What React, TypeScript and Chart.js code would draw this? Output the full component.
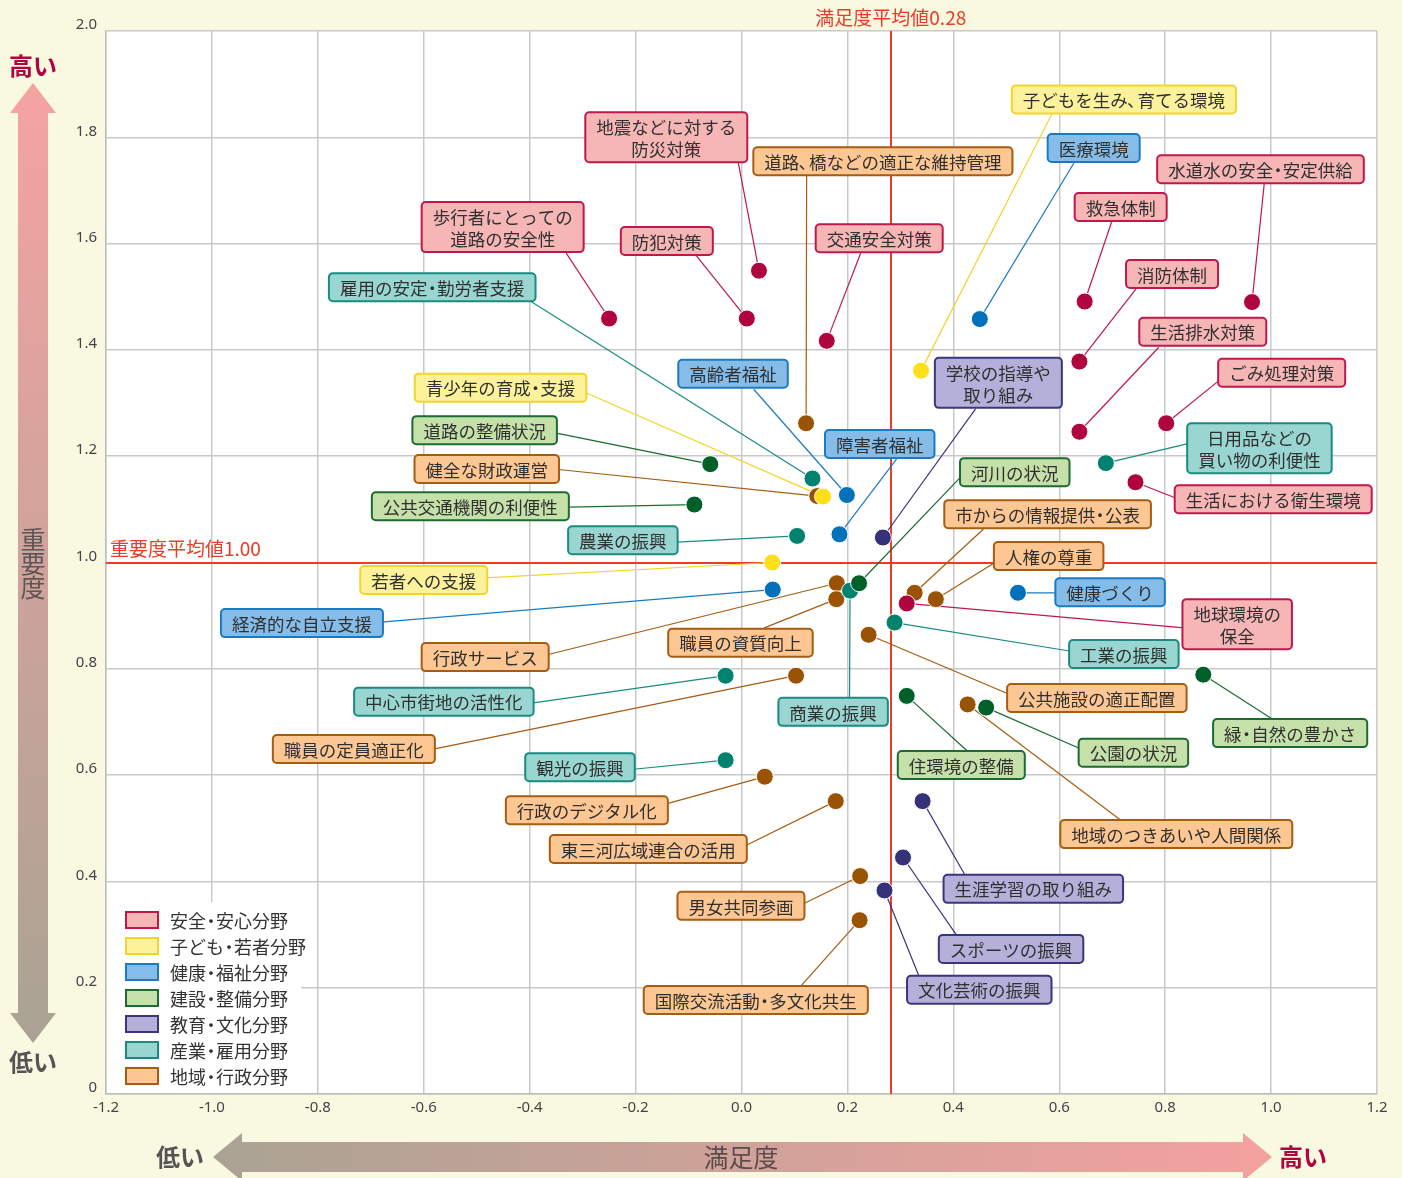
import { useEffect, useRef } from "react";
import { Chart, registerables } from "chart.js";

Chart.register(...registerables);

// ---------------- data ----------------
const CATEGORIES = [
  "安全・安心分野",
  "子ども・若者分野",
  "健康・福祉分野",
  "建設・整備分野",
  "教育・文化分野",
  "産業・雇用分野",
  "地域・行政分野",
];

const SAFETY_NAMES = ["地震などに対する防災対策", "歩行者にとっての道路の安全性", "防犯対策", "交通安全対策", "救急体制", "水道水の安全・安定供給", "消防体制", "生活排水対策", "ごみ処理対策", "生活における衛生環境", "地球環境の保全"];
const SAFETY_X = [0.033, -0.25, 0.01, 0.161, 0.648, 0.964, 0.638, 0.638, 0.802, 0.744, 0.312];
const SAFETY_Y = [1.549, 1.459, 1.459, 1.417, 1.491, 1.49, 1.378, 1.246, 1.262, 1.151, 0.923];

const CHILD_NAMES = ["子どもを生み、育てる環境", "青少年の育成・支援", "若者への支援"];
const CHILD_X = [0.339, 0.154, 0.058];
const CHILD_Y = [1.361, 1.124, 1.0];

const HEALTH_NAMES = ["医療環境", "高齢者福祉", "障害者福祉", "経済的な自立支援", "健康づくり"];
const HEALTH_X = [0.45, 0.199, 0.185, 0.059, 0.522];
const HEALTH_Y = [1.458, 1.127, 1.053, 0.949, 0.943];

const BUILD_NAMES = ["道路の整備状況", "公共交通機関の利便性", "河川の状況", "住環境の整備", "公園の状況", "緑・自然の豊かさ"];
const BUILD_X = [-0.059, -0.089, 0.222, 0.312, 0.462, 0.872];
const BUILD_Y = [1.185, 1.109, 0.961, 0.749, 0.727, 0.789];

const EDU_NAMES = ["学校の指導や取り組み", "生涯学習の取り組み", "スポーツの振興", "文化芸術の振興"];
const EDU_X = [0.267, 0.342, 0.305, 0.27];
const EDU_Y = [1.047, 0.551, 0.445, 0.383];

const INDUSTRY_NAMES = ["雇用の安定・勤労者支援", "日用品などの買い物の利便性", "農業の振興", "商業の振興", "工業の振興", "中心市街地の活性化", "観光の振興"];
const INDUSTRY_X = [0.134, 0.688, 0.105, 0.205, 0.289, -0.03, -0.03];
const INDUSTRY_Y = [1.158, 1.187, 1.05, 0.947, 0.887, 0.787, 0.628];

const ADMIN_NAMES = ["道路、橋などの適正な維持管理", "健全な財政運営", "行政サービス", "職員の資質向上", "市からの情報提供・公表", "人権の尊重", "公共施設の適正配置", "職員の定員適正化", "地域のつきあいや人間関係", "行政のデジタル化", "東三河広域連合の活用", "男女共同参画", "国際交流活動・多文化共生"];
const ADMIN_X = [0.122, 0.143, 0.18, 0.179, 0.327, 0.367, 0.24, 0.103, 0.427, 0.044, 0.178, 0.224, 0.223];
const ADMIN_Y = [1.262, 1.125, 0.961, 0.931, 0.943, 0.931, 0.864, 0.787, 0.733, 0.597, 0.551, 0.41, 0.327];

const AVG_SATISFACTION = 0.28;
const AVG_IMPORTANCE = 1.0;
const AVG_X_LABEL = "満足度平均値0.28";
const AVG_Y_LABEL = "重要度平均値1.00";

const X_TICK_LABELS = ["-1.2", "-1.0", "-0.8", "-0.6", "-0.4", "-0.2", "0.0", "0.2", "0.4", "0.6", "0.8", "1.0", "1.2"];
const Y_TICK_LABELS = ["0", "0.2", "0.4", "0.6", "0.8", "1.0", "1.2", "1.4", "1.6", "1.8", "2.0"];

// ---------------- layout (annotation boxes, in axis units) ----------------
// [name, box centre x, box centre y, leader end x, leader end y]
const LABEL_LAYOUT: [string, number, number, number, number][] = [
  ["地震などに対する防災対策", -0.142, 1.8, -0.006, 1.752],
  ["歩行者にとっての道路の安全性", -0.451, 1.631, -0.331, 1.582],
  ["防犯対策", -0.141, 1.605, -0.085, 1.577],
  ["交通安全対策", 0.26, 1.61, 0.225, 1.582],
  ["救急体制", 0.716, 1.669, 0.699, 1.641],
  ["水道水の安全・安定供給", 0.98, 1.74, 0.987, 1.712],
  ["消防体制", 0.813, 1.543, 0.745, 1.515],
  ["生活排水対策", 0.871, 1.434, 0.788, 1.405],
  ["ごみ処理対策", 1.02, 1.357, 0.905, 1.345],
  ["生活における衛生環境", 1.004, 1.119, 0.821, 1.121],
  ["地球環境の保全", 0.936, 0.884, 0.836, 0.877],
  ["子どもを生み、育てる環境", 0.722, 1.871, 0.586, 1.844],
  ["青少年の育成・支援", -0.455, 1.329, -0.293, 1.319],
  ["若者への支援", -0.6, 0.967, -0.484, 0.971],
  ["医療環境", 0.665, 1.78, 0.628, 1.752],
  ["高齢者福祉", -0.016, 1.355, 0.023, 1.326],
  ["障害者福祉", 0.261, 1.223, 0.293, 1.195],
  ["経済的な自立支援", -0.83, 0.886, -0.681, 0.888],
  ["健康づくり", 0.696, 0.944, 0.603, 0.943],
  ["道路の整備状況", -0.485, 1.249, -0.352, 1.244],
  ["公共交通機関の利便性", -0.512, 1.106, -0.325, 1.104],
  ["河川の状況", 0.516, 1.17, 0.416, 1.163],
  ["住環境の整備", 0.415, 0.619, 0.427, 0.645],
  ["公園の状況", 0.74, 0.642, 0.641, 0.649],
  ["緑・自然の豊かさ", 1.036, 0.679, 1.0, 0.707],
  ["学校の指導や取り組み", 0.485, 1.338, 0.442, 1.289],
  ["生涯学習の取り組み", 0.551, 0.386, 0.422, 0.412],
  ["スポーツの振興", 0.509, 0.273, 0.406, 0.299],
  ["文化芸術の振興", 0.449, 0.196, 0.335, 0.222],
  ["雇用の安定・勤労者支援", -0.584, 1.518, -0.399, 1.492],
  ["日用品などの買い物の利便性", 0.978, 1.215, 0.849, 1.225],
  ["農業の振興", -0.224, 1.042, -0.13, 1.038],
  ["商業の振興", 0.173, 0.719, 0.204, 0.745],
  ["工業の振興", 0.722, 0.828, 0.622, 0.833],
  ["中心市街地の活性化", -0.562, 0.738, -0.393, 0.736],
  ["観光の振興", -0.305, 0.615, -0.204, 0.611],
  ["道路、橋などの適正な維持管理", 0.267, 1.755, 0.123, 1.727],
  ["健全な財政運営", -0.481, 1.176, -0.346, 1.175],
  ["行政サービス", -0.484, 0.822, -0.369, 0.826],
  ["職員の資質向上", -0.002, 0.849, 0.043, 0.877],
  ["市からの情報提供・公表", 0.578, 1.091, 0.457, 1.063],
  ["人権の尊重", 0.58, 1.012, 0.48, 1.001],
  ["公共施設の適正配置", 0.671, 0.745, 0.501, 0.754],
  ["職員の定員適正化", -0.732, 0.649, -0.582, 0.649],
  ["地域のつきあいや人間関係", 0.821, 0.489, 0.715, 0.516],
  ["行政のデジタル化", -0.292, 0.534, -0.142, 0.546],
  ["東三河広域連合の活用", -0.176, 0.461, 0.009, 0.468],
  ["男女共同参画", -0.001, 0.354, 0.119, 0.359],
  ["国際交流活動・多文化共生", 0.027, 0.177, 0.112, 0.203],
];

const LINE_BREAKS: Record<string, string[]> = {
  "地震などに対する防災対策": ["地震などに対する", "防災対策"],
  "歩行者にとっての道路の安全性": ["歩行者にとっての", "道路の安全性"],
  "地球環境の保全": ["地球環境の", "保全"],
  "学校の指導や取り組み": ["学校の指導や", "取り組み"],
  "日用品などの買い物の利便性": ["日用品などの", "買い物の利便性"],
};

// ---------------- styles ----------------
const PALETTE = [
  { dot: "#B0043E", fill: "#F6B6B6", stroke: "#C0184C" },
  { dot: "#FFDE1A", fill: "#FDF29C", stroke: "#F2D52A" },
  { dot: "#0071BA", fill: "#86BDE8", stroke: "#1A7BC2" },
  { dot: "#00602A", fill: "#C5E1A9", stroke: "#1C6B32" },
  { dot: "#36327A", fill: "#B4B0D9", stroke: "#3B357C" },
  { dot: "#00826F", fill: "#99D6D1", stroke: "#1B8A80" },
  { dot: "#9A5302", fill: "#FDC794", stroke: "#A65C12" },
];
const BG = "#F9F8E0";
const RED = "#EE3A26";
const JP = '"Noto Sans CJK JP", "Noto Sans", sans-serif';
const W = 1402;
const H = 1178;
const LABEL_SIZE = 17.5;

const GROUPS = [
  [SAFETY_NAMES, SAFETY_X, SAFETY_Y],
  [CHILD_NAMES, CHILD_X, CHILD_Y],
  [HEALTH_NAMES, HEALTH_X, HEALTH_Y],
  [BUILD_NAMES, BUILD_X, BUILD_Y],
  [EDU_NAMES, EDU_X, EDU_Y],
  [INDUSTRY_NAMES, INDUSTRY_X, INDUSTRY_Y],
  [ADMIN_NAMES, ADMIN_X, ADMIN_Y],
] as [string[], number[], number[]][];

function rr(ctx: CanvasRenderingContext2D, x: number, y: number, w: number, h: number, r: number) {
  ctx.beginPath();
  ctx.moveTo(x + r, y);
  ctx.arcTo(x + w, y, x + w, y + h, r);
  ctx.arcTo(x + w, y + h, x, y + h, r);
  ctx.arcTo(x, y + h, x, y, r);
  ctx.arcTo(x, y, x + w, y, r);
  ctx.closePath();
}

const NARROW = "・、";
function advances(ctx: CanvasRenderingContext2D, text: string, size: number) {
  return Array.from(text).map((ch) => (NARROW.includes(ch) ? size * 0.55 : ctx.measureText(ch).width));
}
function textWidth(ctx: CanvasRenderingContext2D, text: string, size: number) {
  return advances(ctx, text, size).reduce((a, b) => a + b, 0);
}
// draws text with proportional (half-width) middle dots and commas
function drawJP(ctx: CanvasRenderingContext2D, text: string, x: number, y: number, size: number, align: "left" | "center") {
  const adv = advances(ctx, text, size);
  const total = adv.reduce((a, b) => a + b, 0);
  let cur = align === "center" ? x - total / 2 : x;
  const chars = Array.from(text);
  chars.forEach((ch, i) => {
    if (ch === "、") {
      ctx.textAlign = "left";
      ctx.fillText(ch, cur - size * 0.05, y);
    } else {
      ctx.textAlign = "center";
      ctx.fillText(ch, cur + adv[i] / 2, y);
    }
    cur += adv[i];
  });
}

function findItem(name: string) {
  for (let c = 0; c < GROUPS.length; c++) {
    const i = GROUPS[c][0].indexOf(name);
    if (i >= 0) return { c, x: GROUPS[c][1][i], y: GROUPS[c][2][i] };
  }
  return null;
}

const overlayPlugin = {
  id: "overlay",
  beforeDraw(chart: any) {
    const { ctx, chartArea } = chart;
    ctx.save();
    ctx.fillStyle = BG;
    ctx.fillRect(0, 0, chart.width, chart.height);
    ctx.fillStyle = "#FFFFFF";
    ctx.fillRect(chartArea.left, chartArea.top, chartArea.right - chartArea.left, chartArea.bottom - chartArea.top);
    ctx.restore();
  },
  beforeDatasetsDraw(chart: any) {
    const { ctx, chartArea } = chart;
    const sx = chart.scales.x;
    const sy = chart.scales.y;
    ctx.save();
    // legend background
    ctx.fillStyle = "#FFFFFF";
    ctx.fillRect(chartArea.left + 1, 902, 300 - chartArea.left, chartArea.bottom - 903);
    // average lines
    ctx.strokeStyle = RED;
    ctx.lineWidth = 2;
    const ax = Math.round(sx.getPixelForValue(AVG_SATISFACTION)) + 1;
    const ay = Math.round(sy.getPixelForValue(AVG_IMPORTANCE));
    ctx.beginPath();
    ctx.moveTo(ax, chartArea.top);
    ctx.lineTo(ax, chartArea.bottom);
    ctx.moveTo(chartArea.left, ay);
    ctx.lineTo(chartArea.right, ay);
    ctx.stroke();
    // leader lines
    ctx.lineWidth = 1.2;
    for (const [name, , , ex, ey] of LABEL_LAYOUT) {
      const it = findItem(name);
      if (!it) continue;
      ctx.strokeStyle = PALETTE[it.c].stroke;
      ctx.beginPath();
      ctx.moveTo(sx.getPixelForValue(it.x), sy.getPixelForValue(it.y));
      ctx.lineTo(sx.getPixelForValue(ex), sy.getPixelForValue(ey));
      ctx.stroke();
    }
    ctx.restore();
  },
  afterDatasetsDraw(chart: any) {
    const { ctx, chartArea } = chart;
    const sx = chart.scales.x;
    const sy = chart.scales.y;
    ctx.save();
    ctx.font = `${LABEL_SIZE}px ${JP}`;
    ctx.textBaseline = "middle";
    for (const [name, cx, cy] of LABEL_LAYOUT) {
      const it = findItem(name);
      if (!it) continue;
      const lines = LINE_BREAKS[name] || [name];
      const tw = Math.max(...lines.map((l) => textWidth(ctx, l, LABEL_SIZE)));
      const w = tw + 22;
      const h = lines.length === 1 ? 28 : 50;
      const px = sx.getPixelForValue(cx);
      const py = sy.getPixelForValue(cy);
      rr(ctx, px - w / 2, py - h / 2, w, h, 4);
      ctx.fillStyle = PALETTE[it.c].fill;
      ctx.fill();
      ctx.lineWidth = 2;
      ctx.strokeStyle = PALETTE[it.c].stroke;
      ctx.stroke();
      ctx.fillStyle = "#303030";
      lines.forEach((l, k) => {
        const off = lines.length === 1 ? 0 : k === 0 ? -11 : 11;
        drawJP(ctx, l, px, py + off + 1, LABEL_SIZE, "center");
      });
    }
    // average labels
    ctx.fillStyle = RED;
    ctx.font = `19px ${JP}`;
    ctx.textAlign = "left";
    ctx.fillText(AVG_Y_LABEL, chartArea.left + 4, sy.getPixelForValue(AVG_IMPORTANCE) - 14);
    ctx.textAlign = "center";
    ctx.fillText(AVG_X_LABEL, sx.getPixelForValue(AVG_SATISFACTION) + 1, 18);
    // legend
    ctx.font = `18px ${JP}`;
    CATEGORIES.forEach((cat, i) => {
      const y = 920 + i * 26;
      ctx.fillStyle = PALETTE[i].fill;
      ctx.fillRect(126, y - 8, 32, 16);
      ctx.lineWidth = 2;
      ctx.strokeStyle = PALETTE[i].stroke;
      ctx.strokeRect(126, y - 8, 32, 16);
      ctx.fillStyle = "#333333";
      drawJP(ctx, cat, 170, y + 1, 18, "left");
    });
    ctx.restore();
  },
  afterDraw(chart: any) {
    const { ctx } = chart;
    ctx.save();
    // vertical arrow
    const gv = ctx.createLinearGradient(0, 83, 0, 1043);
    gv.addColorStop(0, "#F5A3A3");
    gv.addColorStop(1, "#A9A393");
    ctx.fillStyle = gv;
    ctx.beginPath();
    ctx.moveTo(33, 83);
    ctx.lineTo(56, 113);
    ctx.lineTo(48, 113);
    ctx.lineTo(48, 1013);
    ctx.lineTo(56, 1013);
    ctx.lineTo(33, 1043);
    ctx.lineTo(10, 1013);
    ctx.lineTo(18, 1013);
    ctx.lineTo(18, 113);
    ctx.lineTo(10, 113);
    ctx.closePath();
    ctx.fill();
    // horizontal arrow
    const gh = ctx.createLinearGradient(214, 0, 1271, 0);
    gh.addColorStop(0, "#AAA393");
    gh.addColorStop(1, "#F5A1A0");
    ctx.fillStyle = gh;
    ctx.beginPath();
    ctx.moveTo(213, 1157);
    ctx.lineTo(242, 1133);
    ctx.lineTo(242, 1142);
    ctx.lineTo(1243, 1142);
    ctx.lineTo(1243, 1133);
    ctx.lineTo(1272, 1157);
    ctx.lineTo(1243, 1181);
    ctx.lineTo(1243, 1172);
    ctx.lineTo(242, 1172);
    ctx.lineTo(242, 1181);
    ctx.closePath();
    ctx.fill();
    // titles
    ctx.textAlign = "center";
    ctx.textBaseline = "middle";
    ctx.font = `bold 24px ${JP}`;
    ctx.fillStyle = "#B0043E";
    ctx.fillText("高い", 33, 66);
    ctx.fillText("高い", 1303, 1157);
    ctx.fillStyle = "#555555";
    ctx.fillText("低い", 33, 1062);
    ctx.fillText("低い", 180, 1157);
    ctx.font = `25px ${JP}`;
    ctx.fillStyle = "#5C5656";
    ["重", "要", "度"].forEach((ch, i) => ctx.fillText(ch, 33, 539 + i * 24));
    ctx.fillStyle = "#5E4C4C";
    ctx.fillText("満足度", 741, 1157);
    ctx.restore();
  },
};

export default function App() {
  const ref = useRef<HTMLCanvasElement>(null);
  useEffect(() => {
    if (!ref.current) return;
    const datasets = GROUPS.map(([names, xs, ys], c) => ({
      label: CATEGORIES[c],
      data: names.map((n, i) => ({ x: xs[i], y: ys[i] })),
      backgroundColor: PALETTE[c].dot,
      borderColor: "#FFFFFF",
      borderWidth: 1,
      pointRadius: 8.5,
      pointHoverRadius: 8.5,
    }));
    const chart = new Chart(ref.current, {
      type: "scatter",
      data: { datasets },
      plugins: [overlayPlugin],
      options: {
        responsive: false,
        animation: false,
        devicePixelRatio: 1,
        layout: { padding: { left: 0, right: 25, top: 31, bottom: 0 } },
        plugins: { legend: { display: false }, tooltip: { enabled: false } },
        scales: {
          x: {
            type: "linear",
            min: -1.2,
            max: 1.2,
            afterFit: (s: any) => {
              s.height = 84;
            },
            ticks: {
              stepSize: 0.2,
              padding: 5,
              color: "#444444",
              font: { family: '"Noto Sans", sans-serif', size: 15 },
              callback: (_v: any, i: number) => X_TICK_LABELS[i],
            },
            grid: { color: "#C9C9C9", lineWidth: 1.5, drawTicks: false },
            border: { color: "#BDBDBD", width: 1.5 },
          },
          y: {
            type: "linear",
            min: 0,
            max: 2,
            afterFit: (s: any) => {
              s.width = 106;
            },
            ticks: {
              stepSize: 0.2,
              padding: 9,
              labelOffset: -6,
              color: "#444444",
              font: { family: '"Noto Sans", sans-serif', size: 15 },
              callback: (_v: any, i: number) => Y_TICK_LABELS[i],
            },
            grid: { color: "#C9C9C9", lineWidth: 1.5, drawTicks: false },
            border: { color: "#BDBDBD", width: 1.5 },
          },
        },
      } as any,
    });
    return () => chart.destroy();
  }, []);
  return (
    <div style={{ position: "absolute", left: 0, top: 0, width: W, height: H, background: BG, overflow: "hidden" }}>
      <canvas ref={ref} width={W} height={H} style={{ display: "block", width: W, height: H }} />
    </div>
  );
}
